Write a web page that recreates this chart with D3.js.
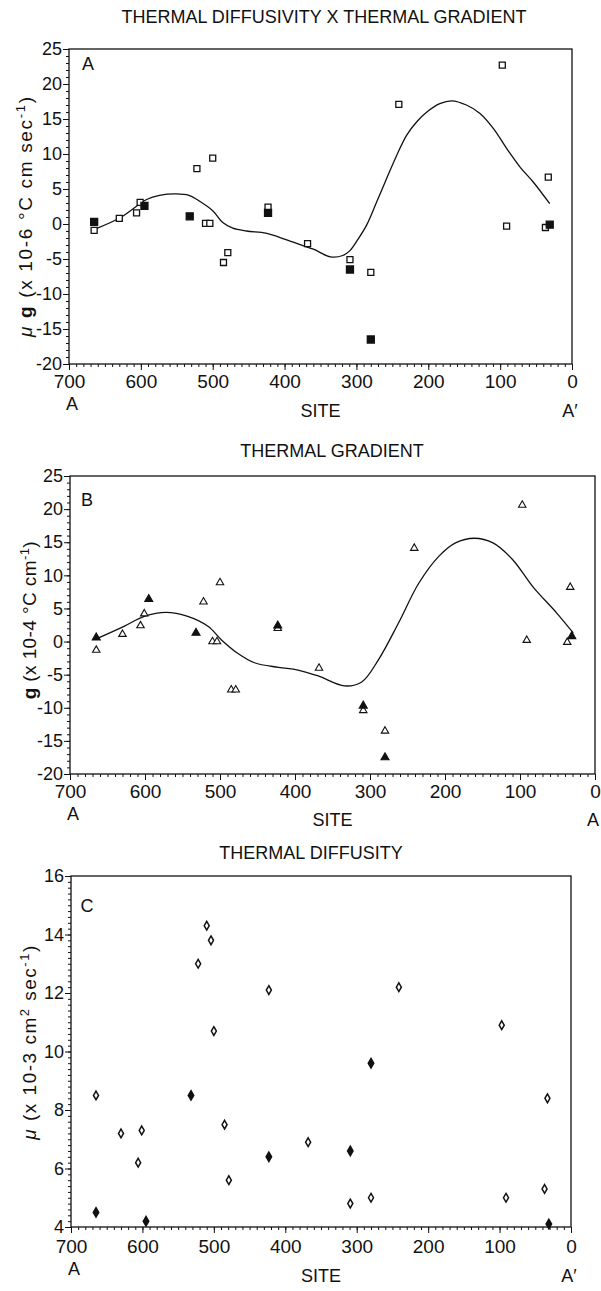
<!DOCTYPE html>
<html>
<head>
<meta charset="utf-8">
<script src="https://cdn.jsdelivr.net/npm/d3@7"></script>
<style>
  body { margin: 0; background: #fff; }
  svg { display: block; }
  text { font-family: 'Liberation Sans', Arial, Helvetica, sans-serif; }
</style>
</head>
<body>
<svg id="fig" width="601" height="1291"></svg>
<script>
// Stations along the A–A' transect (site number), shared by the three panels
const sites = [665, 665, 630, 606, 601, 595, 532, 522, 510, 504, 500, 485, 479, 423, 423, 368, 309, 309, 280, 280, 241, 97, 91, 37, 33, 31];
// 1 = solid marker, 0 = open marker
const solid = [1, 0, 0, 0, 0, 1, 1, 0, 0, 0, 0, 0, 0, 0, 1, 0, 0, 1, 0, 1, 0, 0, 0, 0, 0, 1];
// Thermal diffusivity x thermal gradient (x10^-6 °C cm sec^-1)
const muG = [0.3, -0.9, 0.8, 1.6, 3.1, 2.6, 1.1, 7.9, 0.1, 0.1, 9.4, -5.5, -4.1, 2.4, 1.6, -2.8, -5.1, -6.5, -6.9, -16.5, 17.1, 22.7, -0.3, -0.5, 6.7, -0.1];
// Thermal gradient (x10^-4 °C cm^-1)
const gradient = [0.6, -1.3, 1.1, 2.4, 4.2, 6.4, 1.3, 6.0, 0.0, 0.0, 8.9, -7.3, -7.3, 2.0, 2.4, -4.0, -10.4, -9.7, -13.5, -17.5, 14.1, 20.6, 0.2, -0.1, 8.2, 0.8];
// Thermal diffusivity (x10^-3 cm^2 sec^-1)
const diffusivity = [4.5, 8.5, 7.2, 6.2, 7.3, 4.2, 8.5, 13.0, 14.3, 13.8, 10.7, 7.5, 5.6, 12.1, 6.4, 6.9, 4.8, 6.6, 5.0, 9.6, 12.2, 10.9, 5.0, 5.3, 8.4, 4.1];

// Smoothed trend curves
const muGFitSites = [663, 627, 592, 574, 551, 533, 519, 500, 486, 472, 453, 426, 407, 388, 360, 336, 319, 309, 298, 286, 272, 258, 244, 230, 216, 202, 184, 167, 147, 128, 109, 91, 72, 54, 31];
const muGFitValues = [-0.7, 1.0, 3.5, 4.1, 4.3, 4.1, 3.3, 1.9, 0.2, -0.6, -1.0, -1.3, -1.9, -2.6, -3.6, -4.7, -4.5, -3.8, -2.2, -0.2, 3.1, 6.5, 9.8, 12.7, 14.6, 16.0, 17.2, 17.6, 17.0, 15.8, 13.6, 10.8, 8.1, 6.0, 2.9];
const gradFitSites = [665, 628, 601, 572, 543, 516, 498, 476, 454, 422, 396, 369, 334, 311, 289, 262, 235, 208, 186, 161, 136, 110, 83, 51, 29];
const gradFitValues = [0.4, 2.3, 3.8, 4.4, 3.8, 2.3, 0.25, -1.8, -3.2, -3.9, -4.3, -5.2, -6.7, -6.1, -2.8, 2.8, 8.8, 12.9, 14.9, 15.6, 14.9, 12.4, 8.3, 4.3, 1.3];

// Axis ticks
const siteTicks = [700, 600, 500, 400, 300, 200, 100, 0];
const muGTicks = [25, 20, 15, 10, 5, 0, -5, -10, -15, -20];
const gradTicks = [25, 20, 15, 10, 5, 0, -5, -10, -15, -20];
const diffTicks = [16, 14, 12, 10, 8, 6, 4];

const svg = d3.select("#fig");
svg.append("rect").attr("width", 601).attr("height", 1291).attr("fill", "#fff");

const FONT = "'Liberation Sans', Arial, Helvetica, sans-serif";
const fmt = d => String(d);

function panel(cfg) {
  const g = svg.append("g");
  const x = d3.scaleLinear().domain([700, 0]).range([cfg.left, cfg.right]);
  const y = d3.scaleLinear().domain(cfg.yDomain).range([cfg.bottom, cfg.top]);

  // title
  g.append("text").attr("x", cfg.titleX).attr("y", cfg.titleY)
    .attr("text-anchor", "middle").attr("font-size", 18).attr("fill", "#111")
    .text(cfg.title);

  // frame
  g.append("rect").attr("x", cfg.left).attr("y", cfg.top)
    .attr("width", cfg.right - cfg.left).attr("height", cfg.bottom - cfg.top)
    .attr("fill", "none").attr("stroke", "#111").attr("stroke-width", 1.3);

  const styleAxis = a => {
    a.select(".domain").remove();
    a.attr("font-family", FONT).attr("font-size", 18).attr("color", "#111");
    a.selectAll("line").attr("stroke-width", 1);
  };

  // left axis: minor then major ticks
  g.append("g").attr("transform", `translate(${cfg.left},0)`)
    .call(d3.axisLeft(y).tickValues(cfg.yMinor).tickSize(3).tickFormat(""))
    .call(styleAxis);
  g.append("g").attr("transform", `translate(${cfg.left},0)`)
    .call(d3.axisLeft(y).tickValues(cfg.yTicks).tickSize(6).tickPadding(1).tickFormat(fmt))
    .call(styleAxis);

  // bottom axis
  const xMinor = d3.range(0, 71).map(i => i * 10);
  g.append("g").attr("transform", `translate(0,${cfg.bottom})`)
    .call(d3.axisBottom(x).tickValues(xMinor).tickSize(3).tickFormat(""))
    .call(styleAxis);
  g.append("g").attr("transform", `translate(0,${cfg.bottom})`)
    .call(d3.axisBottom(x).tickValues(siteTicks).tickSize(6).tickPadding(cfg.xPad).tickFormat(fmt))
    .call(styleAxis)
    .call(a => a.attr("font-size", 19));

  // end labels and axis name
  g.append("text").attr("x", x(700) + 3).attr("y", cfg.bottom + cfg.endDy)
    .attr("text-anchor", "middle").attr("font-size", 18).attr("fill", "#111").text("A");
  g.append("text").attr("x", x(0) - 2).attr("y", cfg.bottom + cfg.siteDy)
    .attr("text-anchor", "middle").attr("font-size", 18).attr("fill", "#111").text(cfg.endRight);
  g.append("text").attr("x", (cfg.left + cfg.right) / 2).attr("y", cfg.bottom + cfg.siteDy)
    .attr("text-anchor", "middle").attr("font-size", 18).attr("fill", "#111").text("SITE");

  // panel letter
  g.append("text").attr("x", cfg.letterX).attr("y", cfg.letterY)
    .attr("text-anchor", "middle").attr("font-size", 18).attr("fill", "#111").text(cfg.letter);

  // vertical axis title
  const t = g.append("text")
    .attr("transform", `translate(${cfg.yTitleX},${y(cfg.yTitleAt)}) rotate(-90)`)
    .attr("text-anchor", "middle").attr("font-size", 19).attr("fill", "#111")
    .attr("textLength", cfg.yTitleLen).attr("lengthAdjust", "spacing");
  let raised = false;
  cfg.yTitle.forEach(p => {
    const s = t.append("tspan").text(p.t);
    if (p.b) s.attr("font-weight", "bold");
    if (p.i) s.attr("font-style", "italic");
    if (p.sup) { s.attr("font-size", 13).attr("dy", -7); raised = true; }
    else if (raised) { s.attr("dy", 7); raised = false; }
  });

  // trend curve
  if (cfg.fitSites) {
    const line = d3.line().x(d => x(d[0])).y(d => y(d[1])).curve(d3.curveCatmullRom.alpha(0.5));
    g.append("path").datum(d3.zip(cfg.fitSites, cfg.fitValues))
      .attr("d", line).attr("fill", "none").attr("stroke", "#111").attr("stroke-width", 1.3);
  }

  // station markers
  const sym = d3.symbol().type(cfg.symbol);
  g.selectAll("path.pt").data(d3.range(sites.length)).join("path")
    .attr("class", "pt")
    .attr("transform", i => `translate(${x(sites[i])},${y(cfg.values[i])})`)
    .attr("d", i => sym.size(solid[i] ? cfg.solidSize : cfg.openSize)())
    .attr("fill", i => solid[i] ? "#111" : "#fff")
    .attr("stroke", "#111").attr("stroke-width", cfg.strokeW);
}

panel({
  title: "THERMAL DIFFUSIVITY X THERMAL GRADIENT", titleX: 324, titleY: 23,
  left: 69, right: 572, top: 49, bottom: 364, xPad: 5,
  yDomain: [-20, 25], yTicks: muGTicks, yMinor: d3.range(-20, 26),
  endDy: 46, siteDy: 53, endRight: "A\u2032",
  letter: "A", letterX: 88, letterY: 70,
  yTitleX: 32, yTitleAt: 1, yTitleLen: 240,
  yTitle: [{t: "\u03bc", i: true}, {t: " g", b: true}, {t: " (x 10-6 \u00b0C cm sec"}, {t: "-1", sup: true}, {t: ")"}],
  fitSites: muGFitSites, fitValues: muGFitValues,
  values: muG, symbol: d3.symbolSquare, openSize: 36, solidSize: 49, strokeW: 1.3
});

panel({
  title: "THERMAL GRADIENT", titleX: 332, titleY: 457,
  left: 70, right: 595, top: 476, bottom: 774, xPad: 5,
  yDomain: [-20, 25], yTicks: gradTicks, yMinor: d3.range(-20, 26),
  endDy: 46, siteDy: 52, endRight: "A",
  letter: "B", letterX: 87, letterY: 506,
  yTitleX: 36, yTitleAt: 3.2, yTitleLen: 158,
  yTitle: [{t: "g", b: true}, {t: " (x 10-4 \u00b0C cm"}, {t: "-1", sup: true}, {t: ")"}],
  fitSites: gradFitSites, fitValues: gradFitValues,
  values: gradient, symbol: d3.symbolTriangle, openSize: 24, solidSize: 28, strokeW: 1.1
});

panel({
  title: "THERMAL DIFFUSITY", titleX: 311, titleY: 859,
  left: 71, right: 571, top: 876, bottom: 1227, xPad: 7,
  yDomain: [4, 16], yTicks: diffTicks, yMinor: d3.range(0, 61).map(i => 4 + i * 0.2),
  endDy: 48, siteDy: 55, endRight: "A\u2032",
  letter: "C", letterX: 87, letterY: 912,
  yTitleX: 36, yTitleAt: 10.3, yTitleLen: 194,
  yTitle: [{t: "\u03bc", i: true}, {t: " (x 10-3 cm"}, {t: "2", sup: true}, {t: " sec"}, {t: "-1", sup: true}, {t: ")"}],
  values: diffusivity, symbol: d3.symbolDiamond, openSize: 22, solidSize: 26, strokeW: 1.5
});
</script>
</body>
</html>
